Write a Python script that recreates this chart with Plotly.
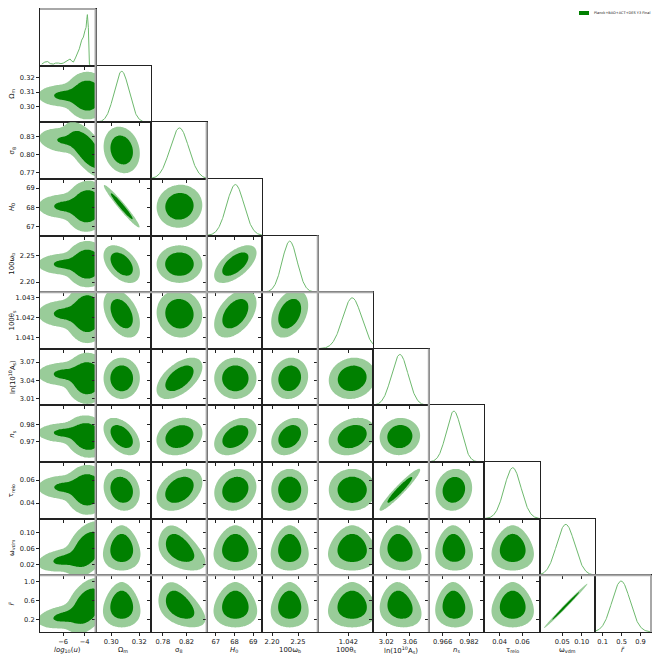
import numpy as np
import plotly.graph_objects as go

# parameters in plotting order
param_labels = ['<i>log</i><sub>10</sub>(<i>u</i>)', 'Ω<sub>m</sub>', 'σ<sub>8</sub>', '<i>H</i><sub>0</sub>',
                '100ω<sub>b</sub>', '100θ<sub>s</sub>', 'ln(10<sup>10</sup>A<sub>s</sub>)', '<i>n</i><sub>s</sub>',
                'τ<sub>reio</sub>', 'ω<sub>vdm</sub>', '<i>r\u0303</i>']
param_means = [-3.75, 0.3075, 0.808, 68.05, 2.234, 1.04219, 3.043, 0.9728, 0.0515, 0.059, 0.49]
param_sigmas = [0.85, 0.0053, 0.0158, 0.46, 0.0145, 0.00048, 0.0140, 0.0045, 0.0074, 0.023, 0.19]
axis_ranges = [[-8.15, -2.98], [0.2888, 0.3285], [0.760, 0.854], [66.52, 69.48], [2.181, 2.288],
               [1.04046, 1.04325], [2.998, 3.092], [0.9577, 0.9912], [0.0265, 0.0755], [-0.007, 0.135],
               [-0.05, 1.12]]
x_tickvals = [[-6, -4], [0.30, 0.32], [0.78, 0.82], [67, 68, 69], [2.20, 2.25], [1.042], [3.02, 3.06],
              [0.966, 0.982], [0.04, 0.06], [0.05, 0.10], [0.1, 0.5, 0.9]]
y_tickvals = [[], [0.30, 0.31, 0.32], [0.77, 0.80, 0.83], [67, 68, 69], [2.20, 2.25], [1.041, 1.042, 1.043],
              [3.01, 3.04, 3.07], [0.97, 0.98], [0.04, 0.06], [0.02, 0.06, 0.10], [0.2, 0.6, 1.0]]
x_formats = ['d', '.2f', '.2f', 'd', '.2f', '.3f', '.2f', '.3f', '.2f', '.2f', '.1f']
y_formats = ['d', '.2f', '.2f', 'd', '.2f', '.3f', '.2f', '.2f', '.2f', '.2f', '.1f']

# pairwise correlations (row, col, rho)
correlations = [
    (2, 1, -0.15),
    (3, 1, -0.97), (3, 2, 0.05),
    (4, 1, -0.45), (4, 2, 0.0), (4, 3, 0.6),
    (5, 1, -0.4), (5, 2, -0.05), (5, 3, 0.45), (5, 4, 0.35),
    (6, 1, 0.0), (6, 2, 0.55), (6, 3, 0.0), (6, 4, 0.1), (6, 5, 0.1),
    (7, 1, -0.45), (7, 2, 0.2), (7, 3, 0.4), (7, 4, 0.3), (7, 5, 0.25), (7, 6, 0.05),
    (8, 1, -0.15), (8, 2, 0.35), (8, 3, 0.15), (8, 4, 0.0), (8, 5, 0.0), (8, 6, 0.95), (8, 7, 0.1),
    (9, 1, 0.0), (9, 2, -0.45), (9, 3, 0.0), (9, 4, 0.0), (9, 5, 0.0), (9, 6, -0.15), (9, 7, -0.05), (9, 8, 0.0),
    (10, 1, 0.0), (10, 2, -0.45), (10, 3, 0.0), (10, 4, 0.0), (10, 5, 0.0), (10, 6, -0.15), (10, 7, -0.05),
    (10, 8, 0.0), (10, 9, 0.995),
]
# egg-shaped contours: width of the partner variable grows towards low values
egg_skew = [0, 0, 0, 0, 0, 0, 0, 0, 0, 0.12, 0.12]

# log10(u) posterior: a main peak plus a long tail to low values
logu_weights = [0.77, 0.23]
logu_centres = [-3.75, -6.0]
logu_widths = [0.85, 1.15]
logu_rho_main = [0, 0.0, -0.65, 0.05, 0.0, 0.0, 0.0, -0.1, 0.0, 0.4, 0.4]
logu_rho_tail = [0, 0.0, -0.2, 0.0, 0.0, 0.0, 0.0, 0.0, 0.0, 0.3, 0.3]
main_scale = [1, 1.3, 1.2, 1.2, 1.25, 1.25, 1.25, 1.15, 1.2, 1.25, 1.25]
tail_shift = [0, 0.0, 1.0, 0.0, 0.0, 0.0, 0.5, 0.5, 0.3, -1.2, -1.2]
tail_scale = [1, 0.7, 0.65, 0.65, 0.65, 0.65, 0.65, 0.6, 0.65, 0.6, 0.6]

# noisy 1D marginal of log10(u)
logu_curve_x = [-7.99, -7.7, -7.43, -7.2, -6.91, -6.7, -6.44, -6.2, -5.98, -5.7, -5.35, -5.2, -5.04,
                -4.85, -4.67, -4.49, -4.27, -4.11, -3.96, -3.86, -3.80, -3.74, -3.65, -3.55, -3.45]
logu_curve_y = [0.03, 0.07, 0.08, 0.04, 0.03, 0.05, 0.05, 0.04, 0.05, 0.09, 0.13, 0.09, 0.07,
                0.15, 0.23, 0.33, 0.5, 0.56, 0.69, 0.75, 0.9, 1.0, 0.75, 0.03, 0.0]

legend_label = 'Planck+BAO+ACT+DES Y3 Final'

DARK = '#008000'
LIGHT = '#99cc99'
LINE = 'rgb(110,185,110)'
nvar = len(param_labels)
rho_of = {(r, c): v for r, c, v in correlations}


def gauss2(zx, zy, rho):
    q = (zx ** 2 - 2 * rho * zx * zy + zy ** 2) / (1 - rho ** 2)
    return np.exp(-0.5 * q) / np.sqrt(1 - rho ** 2)


def grid_for(k, npts):
    lo, hi = axis_ranges[k]
    m, s = param_means[k], param_sigmas[k]
    if k == 0:
        lo, hi = -11.0, -0.5
    else:
        lo, hi = min(lo, m - 6 * s), max(hi, m + 6 * s)
    return np.linspace(lo, hi, npts)


def density(i, j, npts):
    xg = grid_for(j, npts)
    yg = grid_for(i, npts)
    X, Y = np.meshgrid(xg, yg)
    my, sy = param_means[i], param_sigmas[i]
    if j == 0:
        d = 0
        for c in range(2):
            syc = sy * (main_scale[i] if c == 0 else tail_scale[i])
            myc = my + (0 if c == 0 else tail_shift[i] * sy)
            rho = logu_rho_main[i] if c == 0 else logu_rho_tail[i]
            zx = (X - logu_centres[c]) / logu_widths[c]
            zy = (Y - myc) / syc
            d = d + logu_weights[c] * gauss2(zx, zy, rho) / (logu_widths[c] * syc)
    else:
        mx, sx = param_means[j], param_sigmas[j]
        zx = (X - mx) / sx
        zy = (Y - my) / sy
        rho = rho_of.get((i, j), 0.0)
        a = egg_skew[i] if egg_skew[j] == 0 else 0
        zx = zx * np.exp(a * zy)
        d = gauss2(zx, zy, rho) * np.exp(a * zy)
    d = d / d.max()
    return xg, yg, d


def hpd_levels(d):
    flat = np.sort(d.ravel())[::-1]
    cum = np.cumsum(flat)
    cum /= cum[-1]
    return flat[np.searchsorted(cum, 0.95)], flat[np.searchsorted(cum, 0.68)]


fig = go.Figure()
layout = {}
axis_style = dict(showline=True, mirror=True, linecolor='#222', linewidth=1, ticks='outside', ticklen=3,
                  tickwidth=1, tickcolor='#222', showgrid=False, zeroline=False,
                  tickfont=dict(family='DejaVu Sans', size=6.7, color='#111'))
annotations = []
n = 0
for i in range(nvar):
    for j in range(i + 1):
        n += 1
        sfx = '' if n == 1 else str(n)
        if i == j:
            if i == 0:
                xs, ys = logu_curve_x, logu_curve_y
            else:
                xs = np.linspace(axis_ranges[i][0], axis_ranges[i][1], 200)
                ys = np.exp(-0.5 * ((xs - param_means[i]) / param_sigmas[i]) ** 2)
            fig.add_trace(go.Scatter(x=xs, y=ys, mode='lines', line=dict(color=LINE, width=1),
                                     xaxis='x' + sfx, yaxis='y' + sfx, showlegend=False, hoverinfo='skip'))
            yrange, ytv = [0, 1.11], []
        else:
            npts = 220 if (i, j) == (10, 9) else 90
            xg, yg, d = density(i, j, npts)
            l95, l68 = hpd_levels(d)
            fig.add_trace(go.Contour(
                x=xg, y=yg, z=d.astype(np.float32), xaxis='x' + sfx, yaxis='y' + sfx,
                autocontour=False,
                contours=dict(start=l95, end=l68, size=l68 - l95, coloring='fill', showlines=False),
                colorscale=[[0, 'rgba(255,255,255,0)'], [0.3, 'rgba(255,255,255,0)'], [0.3, LIGHT],
                            [0.7, LIGHT], [0.7, DARK], [1, DARK]],
                line=dict(width=0), showscale=False, hoverinfo='skip'))
            yrange, ytv = axis_ranges[i], y_tickvals[i]
        layout['xaxis' + sfx] = dict(domain=[j / nvar, (j + 1) / nvar], anchor='y' + sfx, range=axis_ranges[j],
                                     tickvals=x_tickvals[j], tickformat=x_formats[j],
                                     showticklabels=(i == nvar - 1), **axis_style)
        layout['yaxis' + sfx] = dict(domain=[1 - (i + 1) / nvar, 1 - i / nvar], anchor='x' + sfx, range=yrange,
                                     tickvals=ytv, tickformat=y_formats[i],
                                     showticklabels=(j == 0 and i != j), **axis_style)

# axis titles
for k in range(nvar):
    annotations.append(dict(text=param_labels[k], xref='paper', yref='paper', x=(k + 0.5) / nvar, y=-0.029,
                            showarrow=False, xanchor='center', yanchor='middle',
                            font=dict(family='DejaVu Sans', size=6.9, color='#111')))
    if k > 0:
        annotations.append(dict(text=param_labels[k], xref='paper', yref='paper', x=-0.046,
                                y=1 - (k + 0.5) / nvar, showarrow=False, textangle=-90,
                                xanchor='center', yanchor='middle',
                                font=dict(family='DejaVu Sans', size=6.9, color='#111')))

# legend
annotations.append(dict(text=legend_label, xref='paper', yref='paper', x=(592 - 40) / 611, y=1 - (12 - 8) / 623,
                        showarrow=False, xanchor='left', yanchor='middle',
                        font=dict(family='DejaVu Sans', size=3.5, color='#111')))
shapes = [dict(type='rect', xref='paper', yref='paper', x0=(579 - 40) / 611, x1=(589 - 40) / 611,
               y0=1 - (14 - 8) / 623, y1=1 - (10 - 8) / 623, fillcolor=DARK, line=dict(width=0))]

# a few panel borders that look soft and grey in the original rendering
grey = dict(color='#a8a8a8', width=2)
for c in [1, 3, 5, 7]:
    shapes.append(dict(type='line', xref='paper', yref='paper', x0=c / nvar, x1=c / nvar,
                       y0=0, y1=1 - (c - 1) / nvar, line=grey, layer='above'))
shapes.append(dict(type='line', xref='paper', yref='paper', x0=1, x1=1, y0=0, y1=1 / nvar,
                   line=grey, layer='above'))
shapes.append(dict(type='line', xref='paper', yref='paper', x0=0, x1=1, y0=1 / nvar, y1=1 / nvar,
                   line=grey, layer='above'))
shapes.append(dict(type='line', xref='paper', yref='paper', x0=0, x1=6 / nvar, y0=6 / nvar, y1=6 / nvar,
                   line=grey, layer='above'))
shapes.append(dict(type='line', xref='paper', yref='paper', x0=0, x1=1 / nvar, y0=1, y1=1,
                   line=grey, layer='above'))

# page body adds an 8 px offset, so the figure is drawn 8 px smaller
fig.update_layout(width=652, height=652, margin=dict(l=32, r=9, t=1, b=28),
                  paper_bgcolor='white', plot_bgcolor='white', showlegend=False,
                  annotations=annotations, shapes=shapes, **layout)
fig.write_html("out.html")
